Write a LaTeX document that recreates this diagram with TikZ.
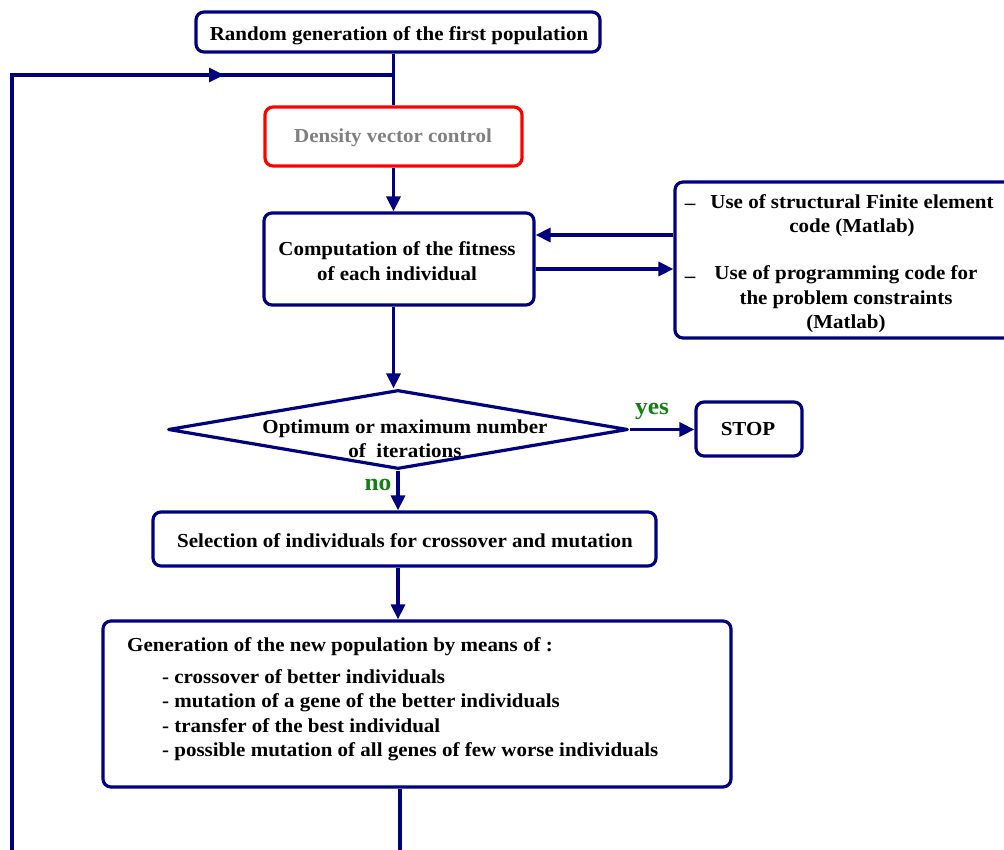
\documentclass[tikz,border=0pt]{standalone}
\usepackage{fontspec}
\setmainfont{Liberation Serif}[FakeStretch=1.06]
\usetikzlibrary{arrows.meta,shapes.geometric}
\definecolor{navy}{RGB}{0,0,128}
\definecolor{okgreen}{RGB}{20,128,20}
\definecolor{dgray}{RGB}{128,128,128}
\tikzset{
  box/.style={draw=navy, line width=3.2pt, rounded corners=8pt, inner sep=0pt},
  conn/.style={draw=navy, line width=3.2pt},
  arr/.style={conn, -{Triangle[length=15pt,width=14pt]}},
  txt/.style={font=\fontsize{19.8}{24.5}\selectfont\bfseries, align=center, inner sep=0pt},
  lab/.style={font=\fontsize{24}{28}\selectfont\bfseries, text=okgreen, inner sep=0pt}
}
\begin{document}
\begin{tikzpicture}[x=1pt,y=-1pt]
\useasboundingbox (0,0) rectangle (1004,850);
\clip (0,0) rectangle (1004,850);
% boxes
\node[box, minimum width=404pt, minimum height=40pt] (top) at (398,32) {};
\node[txt] (toptext) at (399,35.5) {Random generation of the first population};
\node[box, draw=red, minimum width=257pt, minimum height=59pt] (dens) at (393.5,136.5) {};
\node[txt, text=dgray] (denstext) at (393,138) {Density vector control};
\node[box, minimum width=270pt, minimum height=92pt] (fit) at (399,259) {};
\node[txt] (fittext) at (397,261) {Computation of the fitness\\of each individual};
\node[box, minimum width=345pt, minimum height=156pt] (fe) at (847.5,260) {};
\node[txt] (dash1) at (690,207) {--};
\node[txt] (fetext1) at (852,215.5) {Use of structural Finite element\\code (Matlab)};
\node[txt] (dash2) at (690,280) {--};
\node[txt] (fetext2) at (846,299.5) {Use of programming code for\\the problem constraints\\(Matlab)};
\node[diamond, draw=navy, line width=3.2pt, line join=round, inner sep=0pt, minimum width=460pt, minimum height=79pt] (dec) at (398,429.5) {};
\node[txt] (dectext) at (405,438.5) {Optimum or maximum number\\of~ iterations};
\node[box, minimum width=106pt, minimum height=54pt] (stop) at (749,429) {};
\node[txt] (stoptext) at (748,429) {STOP};
\node[box, minimum width=503pt, minimum height=54pt] (sel) at (404.5,539) {};
\node[txt] (seltext) at (405,541) {Selection of individuals for crossover and mutation};
\node[box, minimum width=628pt, minimum height=166pt] (gen) at (417,704) {};
\node[txt, align=left, anchor=north west] (gentext) at (127,637) {Generation of the new population by means of :\\[7.5pt]
\hspace*{35pt}- crossover of better individuals\\
\hspace*{35pt}- mutation of a gene of the better individuals\\
\hspace*{35pt}- transfer of the best individual\\
\hspace*{35pt}- possible mutation of all genes of few worse individuals};
\node[lab] (yes) at (652,411) {yes};
\node[lab] (no) at (378,485) {no};
% loop coordinates
\coordinate (loopB) at (12,852);
\coordinate (loopT) at (12,75);
\coordinate (loopM) at (224,75);
\coordinate (genout) at (400,852);
% connectors
\draw[conn] (top.south -| dens.north) -- (dens.north);
\draw[conn] (loopB) -- (loopT) -- (loopT -| dens.north);
\draw[arr] (loopT) -- (loopM);
\draw[arr] (dens.south) -- (dens.south |- fit.north);
\draw[arr] ([yshift=25pt]fe.west) -- ([yshift=25pt]fe.west -| fit.east);
\draw[arr] ([yshift=-10pt]fit.east) -- ([yshift=-10pt]fit.east -| fe.west);
\draw[arr] (fit.south -| dens.south) -- (dec.north -| dens.south);
\draw[arr] (dec.east) -- (dec.east -| stop.west);
\draw[arr] (dec.south) -- (dec.south |- sel.north);
\draw[arr] (sel.south -| dec.south) -- (dec.south |- gen.north);
\draw[conn] (gen.south -| genout) -- (genout);
\end{tikzpicture}
\end{document}
